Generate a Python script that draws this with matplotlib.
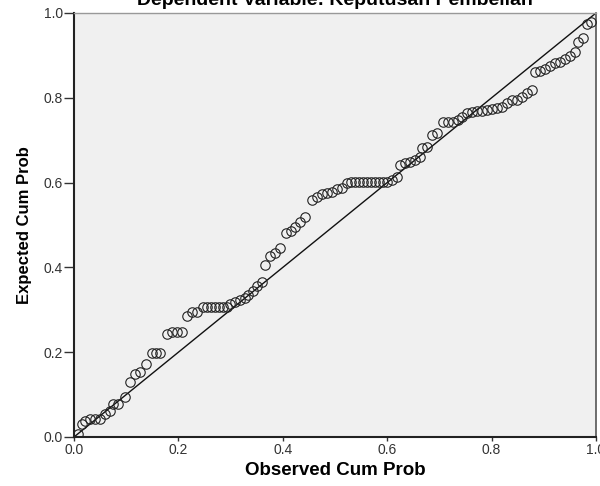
import matplotlib
matplotlib.use("Agg")
import matplotlib.pyplot as plt

plt.rcParams['font.family'] = ['Liberation Sans', 'DejaVu Sans']

title = "Dependent Variable: Keputusan Pembelian"
x_label = "Observed Cum Prob"
y_label = "Expected Cum Prob"
tick_values = [0.0, 0.2, 0.4, 0.6, 0.8, 1.0]
tick_labels = ["0.0", "0.2", "0.4", "0.6", "0.8", "1.0"]

observed = [
    0.008, 0.015, 0.021, 0.031, 0.040, 0.050, 0.059, 0.069, 0.075, 0.084,
    0.098, 0.107, 0.117, 0.126, 0.138, 0.149, 0.157, 0.165, 0.178, 0.188,
    0.197, 0.207, 0.216, 0.226, 0.236, 0.247, 0.255, 0.262, 0.270, 0.278,
    0.285, 0.293, 0.299, 0.308, 0.318, 0.328, 0.333, 0.343, 0.351, 0.360,
    0.366, 0.375, 0.385, 0.395, 0.406, 0.416, 0.423, 0.433, 0.443, 0.456,
    0.466, 0.475, 0.485, 0.494, 0.504, 0.513, 0.523, 0.531, 0.538, 0.546,
    0.554, 0.561, 0.569, 0.577, 0.584, 0.592, 0.600, 0.609, 0.619, 0.625,
    0.634, 0.644, 0.653, 0.663, 0.667, 0.676, 0.686, 0.695, 0.707, 0.716,
    0.726, 0.736, 0.743, 0.753, 0.762, 0.772, 0.782, 0.791, 0.801, 0.810,
    0.820, 0.830, 0.839, 0.849, 0.858, 0.868, 0.877, 0.883, 0.893, 0.902,
    0.912, 0.921, 0.931, 0.941, 0.950, 0.960, 0.966, 0.975, 0.983, 0.990,
]
expected = [
    0.007, 0.031, 0.038, 0.042, 0.042, 0.042, 0.054, 0.061, 0.078, 0.078,
    0.094, 0.129, 0.148, 0.153, 0.172, 0.198, 0.198, 0.198, 0.242, 0.247,
    0.247, 0.247, 0.285, 0.294, 0.294, 0.306, 0.306, 0.306, 0.306, 0.306,
    0.306, 0.306, 0.313, 0.318, 0.322, 0.329, 0.336, 0.344, 0.355, 0.365,
    0.405, 0.426, 0.435, 0.445, 0.482, 0.485, 0.496, 0.506, 0.518, 0.558,
    0.567, 0.572, 0.576, 0.579, 0.584, 0.588, 0.600, 0.602, 0.602, 0.602,
    0.602, 0.602, 0.602, 0.602, 0.602, 0.602, 0.602, 0.607, 0.614, 0.642,
    0.647, 0.649, 0.654, 0.661, 0.682, 0.685, 0.713, 0.718, 0.744, 0.744,
    0.744, 0.748, 0.755, 0.765, 0.767, 0.769, 0.769, 0.772, 0.774, 0.776,
    0.779, 0.788, 0.795, 0.795, 0.802, 0.812, 0.819, 0.861, 0.864, 0.868,
    0.875, 0.882, 0.885, 0.892, 0.899, 0.908, 0.932, 0.941, 0.974, 0.979,
]
ref_line = [0.0, 1.0]

fig = plt.figure(figsize=(6.0, 4.86), dpi=100)
ax = fig.add_axes([74/600, 1 - 437/486, 522/600, 424/486])
ax.set_facecolor('#f0f0f0')

ax.plot(ref_line, ref_line, color='#111111', lw=1.0, zorder=2)
ax.plot(observed, expected, linestyle='none', marker='o', markersize=6.8,
        markerfacecolor='none', markeredgecolor='#222222', markeredgewidth=0.8,
        zorder=3)

ax.set_xlim(0, 1)
ax.set_ylim(0, 1)
ax.set_xticks(tick_values)
ax.set_xticklabels(tick_labels)
ax.set_yticks(tick_values)
ax.set_yticklabels(tick_labels)
ax.tick_params(axis='y', direction='out', length=7, width=1, color='#333333',
               labelsize=10, labelcolor='#333333', pad=1)
ax.tick_params(axis='x', direction='out', length=3, width=1, color='#333333',
               labelsize=10, labelcolor='#333333', pad=1)

for side in ['left', 'bottom']:
    ax.spines[side].set_color('#222222')
    ax.spines[side].set_linewidth(1.5)
ax.spines['top'].set_color('#999999')
ax.spines['top'].set_linewidth(1.0)
ax.spines['right'].set_color('#555555')
ax.spines['right'].set_linewidth(1.2)

ax.set_xlabel(x_label, fontsize=13.5, fontweight='bold', labelpad=4)
ax.set_ylabel(y_label, fontsize=12, fontweight='bold', labelpad=8)

fig.text(335/600, 1 - 5/486, title, ha='center', va='baseline',
         fontsize=14, fontweight='bold')

fig.savefig('out.png', dpi=100)
